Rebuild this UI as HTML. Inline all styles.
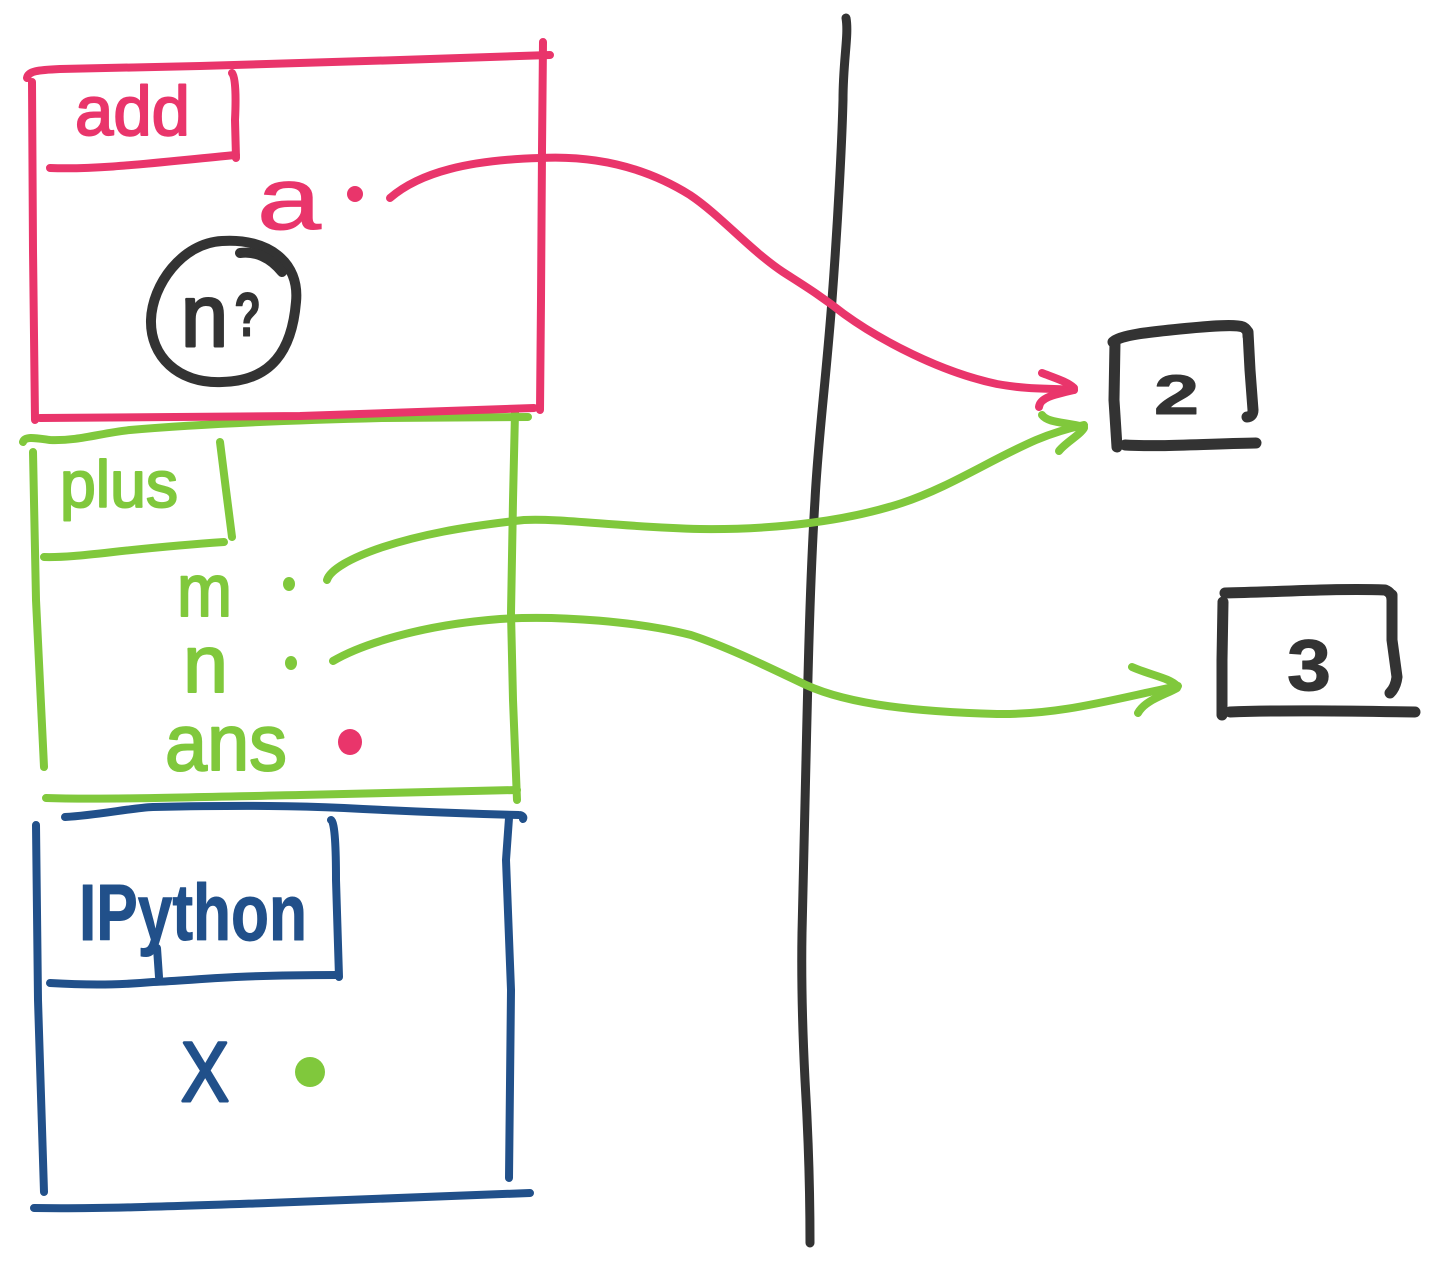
<!DOCTYPE html>
<html>
<head>
<meta charset="utf-8">
<style>
  html, body { margin: 0; padding: 0; background: #ffffff; }
  body { width: 1448px; height: 1272px; overflow: hidden; }
  svg { display: block; }
  .s { fill: none; stroke-linecap: round; stroke-linejoin: round; }
  .red { stroke: #E9356B; }
  .grn { stroke: #80C83C; }
  .blu { stroke: #21508A; }
  .blk { stroke: #333333; }
  text { font-family: "Liberation Sans", sans-serif; stroke-linejoin: round; }
</style>
</head>
<body>
<svg width="1448" height="1272" viewBox="0 0 1448 1272" xmlns="http://www.w3.org/2000/svg">
  <rect width="1448" height="1272" fill="#ffffff"/>

  <!-- GREEN frame (plus) -->
  <g class="s grn" stroke-width="8">
    <path d="M23,442 C25,436 35,438 50,440 C80,441 100,433 130,430 C200,424 300,420 383,418 L528,417"/>
    <path d="M515,412 L513,500 L511,613 L513,700 L517,800"/>
    <path d="M33,452 L36,600 L44,767"/>
    <path d="M46,798 C100,800 200,797 300,795 L517,790"/>
    <path d="M220,442 L226,490 L232,537"/>
    <path d="M44,557 C80,558 120,549 224,542"/>
  </g>

  <!-- RED frame (add) -->
  <g class="s red" stroke-width="8">
    <path d="M27,78 C28,71 38,70 60,69 L200,66 L400,60 L550,55"/>
    <path d="M543,42 L542,150 L541,300 L540,410"/>
    <path d="M32,82 L33,250 L35,420"/>
    <path d="M40,418 L300,416 L534,408"/>
    <path d="M232,73 C236,78 236,100 235,120 L236,158"/>
    <path d="M50,168 C100,170 160,162 236,155"/>
  </g>

  <!-- BLUE frame (IPython) -->
  <g class="s blu" stroke-width="8">
    <path d="M65,817 C100,815 130,808 153,807 C250,805 300,806 344,808 C420,812 480,814 519,815 C522,815 524,817 523,819"/>
    <path d="M36,825 L38,1000 L44,1192"/>
    <path d="M509,818 L506,860 L511,990 L509,1178"/>
    <path d="M34,1208 C100,1209 180,1206 268,1203 L530,1193"/>
    <path d="M331,820 C335,822 336,850 336,880 L339,977"/>
    <path d="M50,983 C100,986 130,984 153,982 C200,980 230,975 337,975"/>
    <path d="M157,948 L159,977"/>
  </g>

  <!-- vertical black divider -->
  <path class="s blk" stroke-width="9" d="M846,18 C849,35 843,60 843,100 C842,140 838,220 832,300 C826,380 818,440 815,500 C810,580 808,673 806,760 C804,830 803,900 802,933 C801,990 803,1040 805,1080 C808,1130 810,1190 810,1243"/>

  <!-- red arrow a -> 2 -->
  <g class="s red" stroke-width="8">
    <path d="M390,198 C420,172 470,160 540,158 C600,155 650,170 690,195 C720,215 750,250 783,272 C800,283 820,295 844,314 C880,340 940,372 997,384 C1030,390 1050,388 1074,390"/>
    <path d="M1042,373 C1055,378 1068,382 1074,388"/>
    <path d="M1039,407 C1040,398 1052,395 1074,390"/>
  </g>

  <!-- green arrow m -> 2 -->
  <g class="s grn" stroke-width="8">
    <path d="M327,580 C330,570 350,558 383,547 C420,535 460,527 524,520 C560,518 620,527 700,529 C780,530 850,520 902,503 C950,487 990,460 1036,440 C1055,432 1070,428 1084,425"/>
    <path d="M1042,415 C1048,423 1065,422 1084,427"/>
    <path d="M1059,451 C1065,443 1080,435 1084,428"/>
  </g>

  <!-- green arrow n -> 3 -->
  <g class="s grn" stroke-width="8">
    <path d="M333,661 C360,645 420,625 500,619 C560,615 640,622 691,635 C730,648 770,668 806,685 C850,705 920,712 997,714 C1060,715 1110,700 1178,686"/>
    <path d="M1132,667 C1150,675 1170,678 1177,686"/>
    <path d="M1138,713 C1145,700 1165,695 1177,688"/>
  </g>

  <!-- black value boxes -->
  <g class="s blk" stroke-width="11">
    <path d="M1113,342 C1120,335 1150,332 1180,329 C1210,326 1235,324 1243,327 C1248,330 1248,333 1248,336"/>
    <path d="M1248,332 L1250,370 L1253,410 C1253,415 1250,417 1247,417"/>
    <path d="M1115,342 L1114,400 L1117,447"/>
    <path d="M1125,445 C1160,447 1200,444 1256,443"/>

    <path d="M1225,593 C1280,592 1340,588 1385,590 C1390,592 1392,595 1392,600"/>
    <path d="M1223,602 L1222,660 L1222,715"/>
    <path d="M1392,595 L1392,640 L1397,677 C1396,685 1393,690 1390,693"/>
    <path d="M1230,712 C1280,710 1350,711 1415,712"/>
  </g>

  <!-- circle around n? -->
  <g class="s blk" stroke-width="10">
    <path d="M222,241 C268,238 300,262 296,302 C292,350 272,381 222,382 C178,384 150,356 151,320 C152,285 182,243 222,241 Z"/>
    <path d="M240,253 C255,251 270,257 282,272"/>
  </g>

  <!-- dots -->
  <circle cx="355" cy="194" r="8" fill="#E9356B"/>
  <ellipse cx="289" cy="584" rx="6" ry="7" fill="#80C83C"/>
  <ellipse cx="291" cy="663" rx="6" ry="7" fill="#80C83C"/>
  <ellipse cx="350" cy="742" rx="12" ry="13" fill="#E9356B"/>
  <circle cx="310" cy="1072" r="15" fill="#80C83C"/>

  <!-- text labels -->
  <text x="75" y="135" font-size="70" fill="#E9356B" stroke="#E9356B" stroke-width="2" textLength="115" lengthAdjust="spacingAndGlyphs">add</text>
  <text x="257" y="229" font-size="88" fill="#E9356B" stroke="#E9356B" stroke-width="1" textLength="64" lengthAdjust="spacingAndGlyphs">a</text>

  <text x="181" y="346" font-size="88" fill="#333333" stroke="#333333" stroke-width="3" textLength="47" lengthAdjust="spacingAndGlyphs">n</text>
  <text x="234" y="336" font-size="62" font-weight="bold" fill="#333333" stroke="#333333" stroke-width="1" textLength="27" lengthAdjust="spacingAndGlyphs">?</text>

  <text x="60" y="507" font-size="66" fill="#80C83C" stroke="#80C83C" stroke-width="2" textLength="118" lengthAdjust="spacingAndGlyphs">plus</text>
  <text x="177" y="616" font-size="74" fill="#80C83C" stroke="#80C83C" stroke-width="2" textLength="55" lengthAdjust="spacingAndGlyphs">m</text>
  <text x="183" y="692" font-size="82" fill="#80C83C" stroke="#80C83C" stroke-width="2" textLength="45" lengthAdjust="spacingAndGlyphs">n</text>
  <text x="165" y="770" font-size="80" fill="#80C83C" stroke="#80C83C" stroke-width="2" textLength="122" lengthAdjust="spacingAndGlyphs">ans</text>

  <text x="79" y="940" font-size="80" font-weight="bold" fill="#21508A" stroke="#21508A" stroke-width="1" textLength="228" lengthAdjust="spacingAndGlyphs">IPython</text>
  <text x="181" y="1101" font-size="84" fill="#21508A" stroke="#21508A" stroke-width="3" textLength="48" lengthAdjust="spacingAndGlyphs">X</text>

  <text x="1154" y="414" font-size="56" font-weight="bold" fill="#333333" stroke="#333333" stroke-width="1" textLength="45" lengthAdjust="spacingAndGlyphs">2</text>
  <text x="1287" y="690" font-size="72" font-weight="bold" fill="#333333" stroke="#333333" stroke-width="1" textLength="44" lengthAdjust="spacingAndGlyphs">3</text>
</svg>
</body>
</html>
